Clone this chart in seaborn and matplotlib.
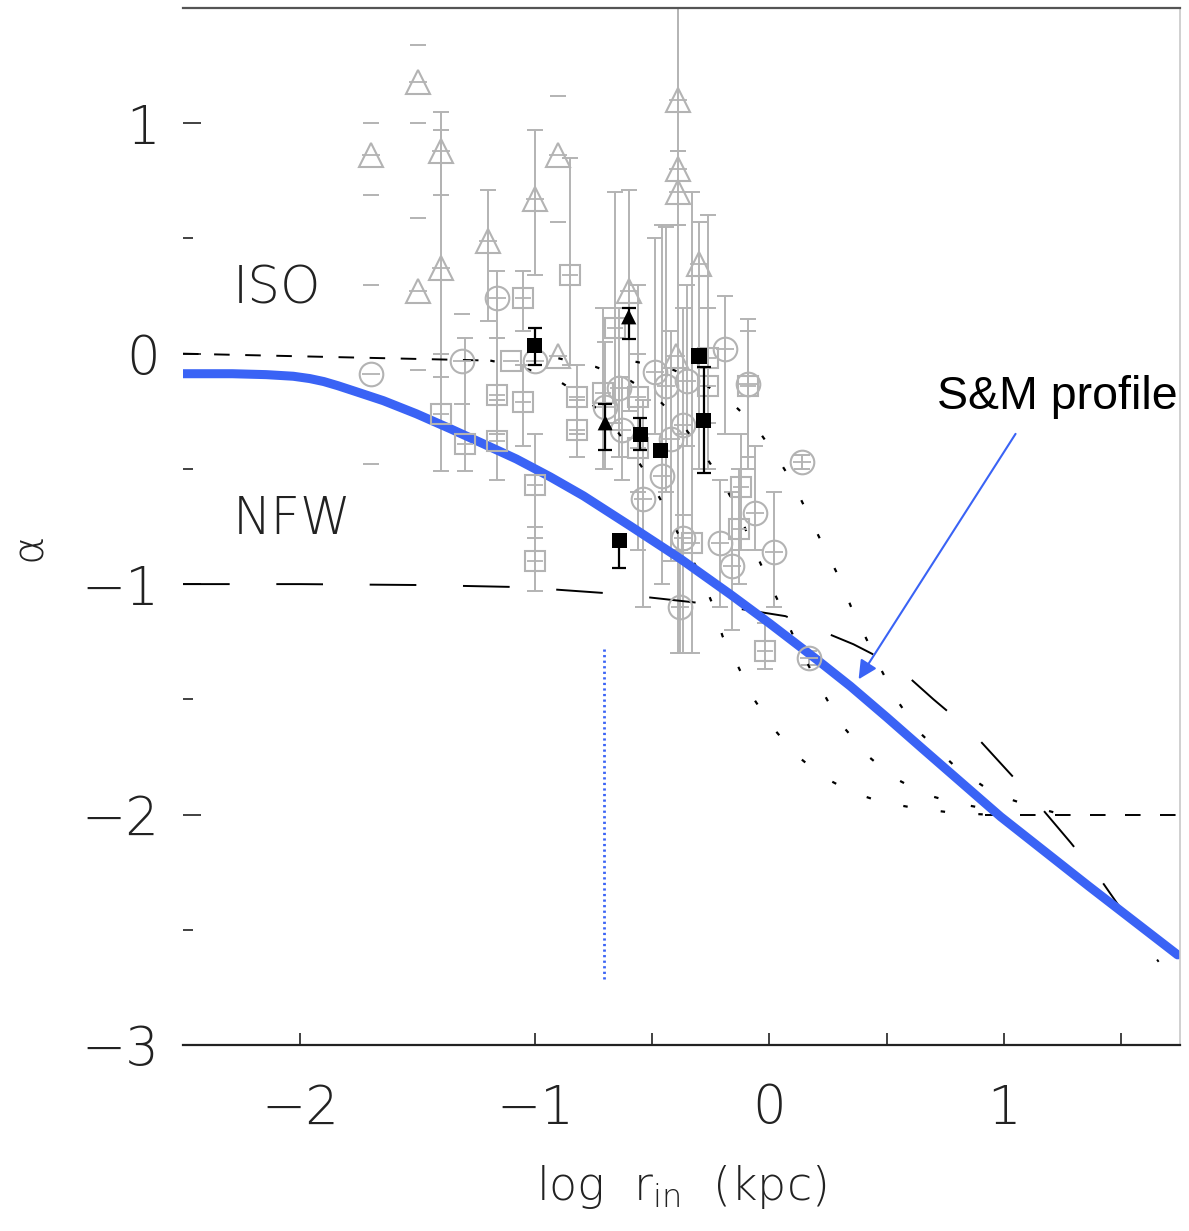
import numpy as np
import pandas as pd
import matplotlib
matplotlib.use("Agg")
import matplotlib.pyplot as plt
import seaborn as sns

# ---------------------------------------------------------------- model curves
# S&M profile: logarithmic slope vs. log radius
sm_logr = [-2.50, -2.29, -2.145, -2.03, -1.96, -1.90, -1.84, -1.774, -1.646, -1.505,
           -1.36, -1.22, -1.079, -0.934, -0.793, -0.593, -0.38, -0.166, 0.00, 0.205,
           0.345, 0.50, 0.65, 0.985, 1.36, 1.74]
sm_alpha = [-0.087, -0.087, -0.091, -0.098, -0.108, -0.121, -0.139, -0.161, -0.204, -0.261,
            -0.326, -0.391, -0.457, -0.535, -0.617, -0.748, -0.890, -1.045, -1.170, -1.330,
            -1.443, -1.578, -1.712, -2.009, -2.31, -2.609]

# NFW-type slope curve
nfw_logr = [-2.50, -2.00, -1.49, -1.06, -0.644, -0.252, 0.068, 0.358, 0.542, 0.699,
            0.861, 1.002, 1.147, 1.284, 1.412, 1.531, 1.659]
nfw_alpha = [-1.0, -1.0, -1.004, -1.013, -1.043, -1.087, -1.139, -1.261, -1.357, -1.5,
             -1.639, -1.796, -1.957, -2.122, -2.283, -2.457, -2.639]

# isothermal cores: flat inner part, three core radii, flat outer part
iso_inner_logr = [-2.50, -1.19]
iso_inner_alpha = [0.0, -0.03]
iso_outer_logr = [0.92, 1.75]
iso_outer_alpha = [-2.0, -2.0]

iso1_logr = [-1.19, -1.062, -0.913, -0.793, -0.687, -0.601, -0.516, -0.443, -0.367, -0.294,
             -0.243, -0.20, -0.132, -0.068, 0.017, 0.111, 0.226, 0.354, 0.486, 0.635, 0.772, 0.921]
iso1_alpha = [-0.03, -0.057, -0.109, -0.187, -0.283, -0.404, -0.535, -0.674, -0.826, -0.957,
              -1.087, -1.226, -1.361, -1.496, -1.626, -1.739, -1.835, -1.904, -1.948, -1.974, -1.991, -2.0]

iso2_logr = [-0.90, -0.742, -0.606, -0.486, -0.380, -0.294, -0.209, -0.136, -0.081, -0.017,
             0.047, 0.102, 0.175, 0.247, 0.324, 0.422, 0.529, 0.665, 0.802, 0.942]
iso2_alpha = [-0.02, -0.057, -0.109, -0.187, -0.296, -0.413, -0.543, -0.674, -0.817, -0.957,
              -1.096, -1.226, -1.37, -1.504, -1.63, -1.748, -1.839, -1.913, -1.952, -1.978]

iso3_logr = [-0.571, -0.422, -0.294, -0.175, -0.068, 0.017, 0.098, 0.162, 0.23, 0.294,
             0.35, 0.418, 0.482, 0.55, 0.635, 0.80, 0.964, 1.104, 1.232]
iso3_alpha = [-0.035, -0.065, -0.122, -0.20, -0.304, -0.426, -0.557, -0.691, -0.835, -0.965,
              -1.104, -1.248, -1.383, -1.513, -1.639, -1.80, -1.913, -1.96, -1.996]

# ---------------------------------------------------------------- galaxy samples (grey)
grey_kind = (["tri"] * 15) + (["circ"] * 24) + (["sq"] * 23)
grey_logr = [-1.70, -1.50, -1.50, -1.40, -1.40, -1.20, -1.00, -0.90, -0.90, -0.60,
             -0.39, -0.39, -0.39, -0.30, -0.40,
             -1.70, -1.31, -1.16, -1.00, -0.70, -0.64, -0.63, -0.49, -0.44, -0.35,
             -0.37, -0.42, -0.46, -0.54, -0.37, -0.38, -0.19, -0.09, 0.14, -0.06,
             -0.21, -0.16, 0.02, 0.17,
             -1.40, -1.30, -1.16, -1.16, -1.05, -1.10, -1.05, -1.00, -1.00, -0.85,
             -0.82, -0.82, -0.66, -0.56, -0.56, -0.33, -0.26, -0.26, -0.09, -0.12,
             -0.13, -0.02, -0.71]
grey_alpha = [0.86, 1.18, 0.27, 0.88, 0.37, 0.49, 0.67, 0.86, -0.01, 0.27,
              1.10, 0.80, 0.70, 0.39, -0.01,
              -0.09, -0.03, 0.24, -0.03, -0.23, -0.15, -0.33, -0.08, -0.14, -0.12,
              -0.31, -0.37, -0.53, -0.63, -0.80, -1.10, 0.02, -0.13, -0.47, -0.69,
              -0.82, -0.92, -0.86, -1.32,
              -0.26, -0.39, -0.18, -0.38, 0.24, -0.03, -0.21, -0.57, -0.90, 0.34,
              -0.19, -0.33, 0.11, -0.19, -0.41, -0.82, -0.02, -0.14, -0.14, -0.58,
              -0.76, -1.29, -0.17]
grey_lo = [0.69, 1.00, -0.07, 0.69, -0.10, 0.14, 0.34, 0.57, -0.01, -0.25,
           0.88, 0.56, -1.30, -0.50, -0.01,
           -0.48, -0.22, 0.07, -0.03, -0.50, -0.45, -0.55, -0.35, -0.60, -0.40,
           -0.70, -0.90, -1.00, -1.10, -1.30, -1.30, -0.35, -0.45, -0.50, -0.85,
           -1.10, -1.20, -1.10, -1.35,
           -0.51, -0.51, -0.35, -0.55, 0.10, -0.03, -0.40, -0.80, -1.03, -0.05,
           -0.35, -0.45, -0.30, -0.60, -0.85, -1.30, -0.30, -0.50, -0.50, -0.85,
           -1.00, -1.37, -0.50]
grey_hi = [1.00, 1.34, 0.59, 1.05, 0.97, 0.71, 0.97, 1.12, -0.01, 0.71,
           1.50, 0.88, 0.56, 0.57, -0.01,
           0.30, 0.17, 0.36, -0.03, 0.05, 0.20, -0.10, 0.50, 0.55, 0.30,
           0.20, 0.10, 0.56, -0.20, -0.35, -0.85, 0.25, 0.10, -0.44, -0.40,
           -0.55, -0.60, -0.60, -1.29,
           0.00, 0.07, 0.07, -0.20, 0.36, -0.03, -0.05, -0.35, -0.75, 0.85,
           -0.05, -0.20, 0.70, 0.30, 0.00, 0.70, 0.60, 0.20, 0.15, -0.35,
           -0.50, -1.17, 0.20]
# limits drawn only as end marks, without the connecting bar
grey_capsonly = [True, True, True, False, False, False, False, True, False, False,
                 False, False, False, False, False,
                 True, True] + [False] * 45

# ---------------------------------------------------------------- highlighted objects (black)
black_kind = ["sq", "sq", "sq", "sq", "sq", "sq", "tri", "tri"]
black_logr = [-1.00, -0.55, -0.465, -0.64, -0.30, -0.28, -0.60, -0.70]
black_alpha = [0.035, -0.35, -0.42, -0.81, -0.01, -0.29, 0.16, -0.30]
black_lo = [-0.05, -0.42, -0.42, -0.93, -0.01, -0.52, 0.065, -0.42]
black_hi = [0.11, -0.28, -0.42, -0.81, -0.01, -0.06, 0.20, -0.22]

# ---------------------------------------------------------------- figure
sns.set_theme(style="white")
plt.rcParams["font.family"] = ["DejaVu Sans"]
plt.rcParams["mathtext.default"] = "regular"

W, H = 1189, 1231
fig = plt.figure(figsize=(W / 100, H / 100), dpi=100)
ax = fig.add_axes([183 / W, 1 - 1045 / H, (1180 - 183) / W, (1045 - 8) / H])

GREY = "#b3b3b3"
BLUE = "#3a63f5"
light = dict(fontweight=200, color="#222222")

grey = pd.DataFrame(dict(kind=grey_kind, logr=grey_logr, alpha=grey_alpha,
                         lo=grey_lo, hi=grey_hi, caps=grey_capsonly))
black = pd.DataFrame(dict(kind=black_kind, logr=black_logr, alpha=black_alpha,
                          lo=black_lo, hi=black_hi))


def draw_bars(df, color, lw, cap, with_line=True, z=2):
    df = df[df.hi > df.lo]
    if with_line:
        ax.vlines(df.logr, df.lo, df.hi, color=color, lw=lw, zorder=z)
    ax.plot(np.r_[df.logr, df.logr], np.r_[df.lo, df.hi], ls="none",
            marker="_", ms=cap, mew=lw, color=color, zorder=z)


# grey error bars (some shown as end marks only)
draw_bars(grey[~grey.caps], GREY, 1.4, 12)
draw_bars(grey[grey.caps], GREY, 1.4, 12, with_line=False)

# grey open symbols with a bar across
marker_of = {"tri": ("^", 17), "circ": ("o", 17), "sq": ("s", 15)}
for kind, sub in grey.groupby("kind"):
    m, ms = marker_of[kind]
    ax.plot(sub.logr, sub.alpha, ls="none", marker=m, ms=ms, mfc="none",
            mec=GREY, mew=1.5, zorder=3)
    ax.plot(sub.logr, sub.alpha, ls="none", marker="_", ms=ms * 0.75, mew=1.3,
            color=GREY, zorder=3)

# model curves
line_kw = dict(sort=False, estimator=None, ax=ax, legend=False)
sns.lineplot(x=iso_inner_logr, y=iso_inner_alpha, color="black", linewidth=1.4,
             linestyle=(0, (8, 8)), **line_kw)
for lx, ly in [(iso1_logr, iso1_alpha), (iso2_logr, iso2_alpha), (iso3_logr, iso3_alpha)]:
    sns.lineplot(x=lx, y=ly, color="black", linewidth=1.6,
                 linestyle=(0, (2, 15)), **line_kw)
sns.lineplot(x=iso_outer_logr, y=iso_outer_alpha, color="black", linewidth=1.4,
             linestyle=(0, (8, 10)), **line_kw)
sns.lineplot(x=nfw_logr, y=nfw_alpha, color="black", linewidth=1.4,
             linestyle=(0, (24, 24)), **line_kw)

# black symbols
draw_bars(black, "black", 1.6, 10, z=4)
sns.scatterplot(data=black, x="logr", y="alpha", style="kind",
                markers={"sq": "s", "tri": "^"}, color="black", s=120,
                edgecolor="black", linewidth=0, legend=False, ax=ax, zorder=5)

# S&M profile
sns.lineplot(x=sm_logr, y=sm_alpha, color=BLUE, linewidth=6.5,
             solid_joinstyle="round", **line_kw)
ax.plot([-0.704, -0.704], [-1.283, -2.717], color=BLUE, lw=2,
        linestyle=(0, (0.8, 1.2)), zorder=4)
ax.annotate("", xy=(0.38, -1.413), xytext=(1.049, -0.348),
            arrowprops=dict(arrowstyle="-|>", color=BLUE, lw=1.5, mutation_scale=28,
                            shrinkA=0, shrinkB=0), zorder=6)
ax.text(0.716, -0.187, "S&M profile", family="Liberation Sans", fontsize=33.5,
        color="black", ha="left", va="center", clip_on=False, zorder=7)

ax.text(-2.29, 0.28, "ISO", fontsize=37, ha="left", va="center", **light)
ax.text(-2.29, -0.72, "NFW", fontsize=37, ha="left", va="center", **light)

# axes
ax.set_xlim(-2.5, 1.75)
ax.set_ylim(-3, 1.5)
ax.set_xticks([-2, -1, 0, 1])
ax.set_xticklabels(["−2", "−1", "0", "1"])
ax.set_xticks([-0.5, 0.5, 1.5], minor=True)
ax.set_yticks([-3, -2, -1, 0, 1])
ax.set_yticklabels(["−3", "−2", "−1", "0", "1"])
ax.set_yticks([-2.5, -1.5, -0.5, 0.5], minor=True)
ax.tick_params(axis="x", which="both", bottom=True, direction="in", length=9, width=1.3,
               color="#333333", pad=27, labelsize=38, labelcolor="#222222")
ax.tick_params(axis="y", which="major", left=True, direction="in", length=13, width=1.3,
               color="#333333", pad=17, labelsize=38, labelcolor="#222222")
ax.tick_params(axis="y", which="minor", left=True, direction="in", length=7, width=1.3,
               color="#333333")
for lab in ax.get_xticklabels() + ax.get_yticklabels():
    lab.set_fontweight(200)

ax.spines["left"].set_visible(False)
ax.spines["bottom"].set_color("#222222")
ax.spines["bottom"].set_linewidth(1.6)
ax.spines["top"].set_color("#555555")
ax.spines["top"].set_linewidth(1.6)
ax.spines["right"].set_color("#c8c8c8")
ax.spines["right"].set_linewidth(1.2)

ax.set_xlabel("log  r$_{in}$  (kpc)", fontsize=33, labelpad=20, **light)
ax.set_ylabel("α", fontsize=31, **light)
ax.yaxis.set_label_coords(-0.134, 0.48)
ax.grid(False)

fig.savefig("out.png", dpi=100)
